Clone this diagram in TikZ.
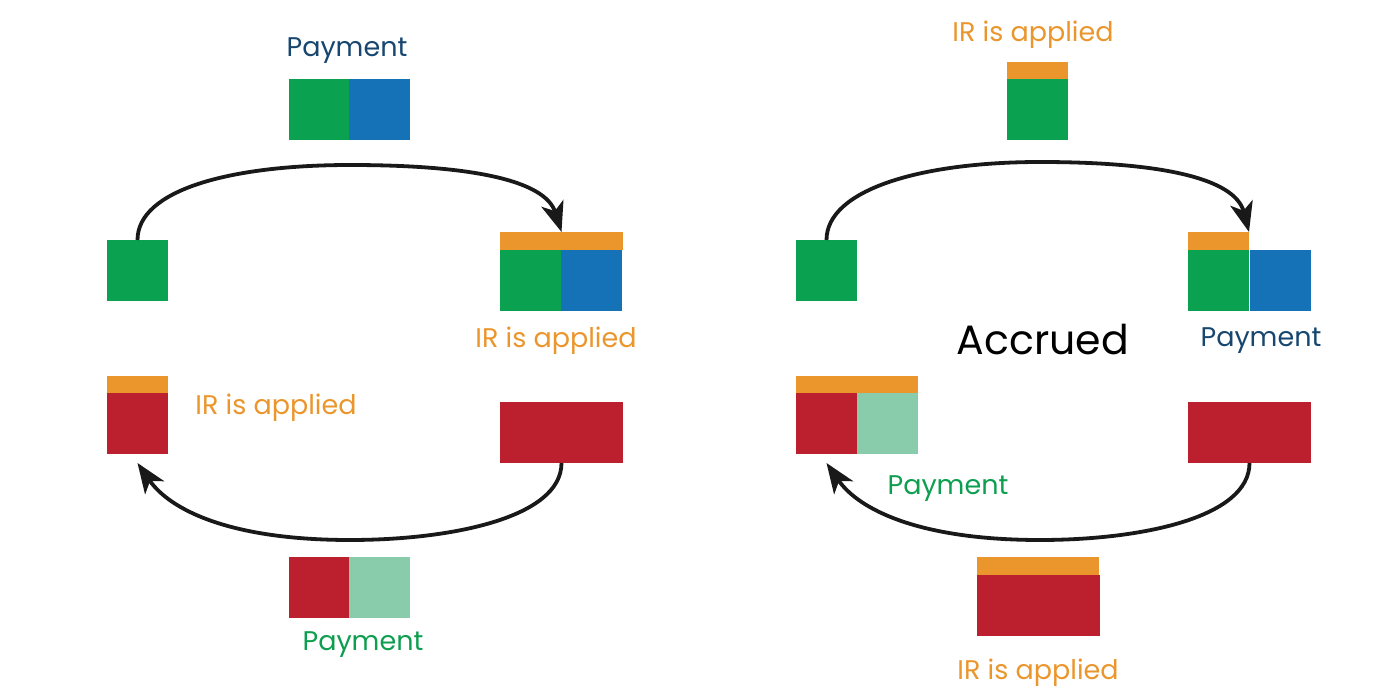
\documentclass[tikz,border=0pt]{standalone}
\usepackage{fontspec}
\setmainfont{Poppins}
\usetikzlibrary{arrows.meta}
\definecolor{cgreen}{HTML}{0AA150}
\definecolor{cblue}{HTML}{1572B6}
\definecolor{corange}{HTML}{EB962D}
\definecolor{cred}{HTML}{BC1F2E}
\definecolor{clight}{HTML}{88CCAC}
\definecolor{tblue}{HTML}{17466F}
\definecolor{tgreen}{HTML}{0E9E4F}
\definecolor{torange}{HTML}{EB962D}
\begin{document}
\begin{tikzpicture}[x=1pt,y=-1pt,
  blk/.style={rectangle,inner sep=0pt,outer sep=0pt,anchor=north west,draw=none},
  sq/.style={blk,minimum width=61pt,minimum height=61pt},
  wide/.style={blk,minimum width=123pt,minimum height=61pt},
  bar/.style={blk,minimum height=18pt,fill=corange},
  lbl/.style={inner sep=0pt,font=\fontsize{27}{30}\selectfont},
  arc/.style={line width=3.8pt,draw=black!90,-{Stealth[length=30pt,width=23pt,inset=8pt]}}]
\useasboundingbox (0,0) rectangle (1400,700);
% ---------- left diagram ----------
\node[lbl,text=tblue] (lpay1) at (347,51) {Payment};
\node[sq,fill=cgreen] (ltg) at (289,79) {};
\node[sq,fill=cblue] (ltb) at (349,79) {};
\node[sq,fill=cgreen] (llg) at (107,240) {};
\node[bar,minimum width=123pt] (lro) at (500,232) {};
\node[sq,fill=cgreen] (lrg) at (500,250) {};
\node[sq,fill=cblue] (lrb) at (561,250) {};
\node[lbl,text=torange] (lir1) at (556,341) {IR is applied};
\node[bar,minimum width=61pt] (llo) at (107,376) {};
\node[sq,fill=cred] (llr) at (107,393) {};
\node[lbl,text=torange] (lir2) at (276,408) {IR is applied};
\node[wide,fill=cred] (lrr) at (500,402) {};
\node[sq,fill=cred] (lbr) at (289,557) {};
\node[sq,fill=clight] (lbl2) at (349,557) {};
\node[lbl,text=tgreen] (lpay2) at (363,645) {Payment};
\draw[arc] (llg.north) .. controls +(0,-50) and (230,165) .. (350,165)
  .. controls (470,165) and (545,180) .. (lro.north);
\draw[arc] (lrr.south) .. controls +(0,55) and (450,540) .. (350,540)
  .. controls (230,540) and (170,510) .. ([yshift=-9pt]llr.south);
% ---------- right diagram ----------
\node[lbl,text=torange] (rir1) at (1033,35) {IR is applied};
\node[bar,minimum width=61pt] (rto) at (1007,62) {};
\node[sq,fill=cgreen] (rtg) at (1007,79) {};
\node[sq,fill=cgreen] (rlg) at (796,240) {};
\node[bar,minimum width=61pt] (rro) at (1188,232) {};
\node[sq,fill=cgreen] (rrg) at (1188,250) {};
\node[sq,fill=cblue] (rrb) at (1250,250) {};
\node[lbl,text=tblue] (rpay1) at (1261,341) {Payment};
\node[inner sep=0pt,font=\fontsize{41}{46}\selectfont,text=black] (acc) at (1043,340) {Accrued};
\node[bar,minimum width=122pt] (rlo) at (796,376) {};
\node[sq,fill=cred] (rlr) at (796,393) {};
\node[sq,fill=clight] (rll) at (857,393) {};
\node[lbl,text=tgreen] (rpay2) at (948,489) {Payment};
\node[wide,fill=cred] (rrr) at (1188,402) {};
\node[bar,minimum width=122pt] (rbo) at (977,557) {};
\node[wide,fill=cred] (rbr) at (977,575) {};
\node[lbl,text=torange] (rir2) at (1038,673) {IR is applied};
\draw[arc] (rlg.north) .. controls +(0,-50) and (920,162) .. (1040,162)
  .. controls (1160,162) and (1235,178) .. (rro.north east);
\draw[arc] (rrr.south) .. controls +(0,55) and (1140,540) .. (1040,540)
  .. controls (920,540) and (859,510) .. ([yshift=-9pt]rlr.south);
\end{tikzpicture}
\end{document}
